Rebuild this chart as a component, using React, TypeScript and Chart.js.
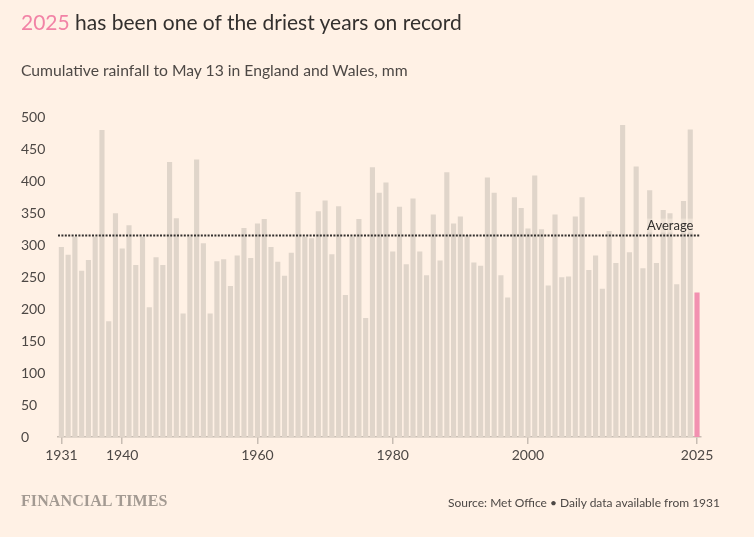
import React, { useEffect, useRef } from "react";
import { Chart, registerables } from "chart.js";

Chart.register(...registerables);

const YEARS: number[] = [];
for (let y = 1931; y <= 2025; y++) YEARS.push(y);

const RAINFALL: number[] = [
  297, 285, 313, 260, 277, 313, 480, 181, 350, 295, // 1931-1940
  331, 269, 313, 203, 281, 269, 430, 342, 193, 313, // 1941-1950
  434, 303, 193, 275, 278, 236, 284, 327, 280, 334, // 1951-1960
  341, 297, 274, 252, 288, 383, 313, 311, 353, 370, // 1961-1970
  286, 361, 222, 313, 341, 186, 422, 382, 398, 290, // 1971-1980
  360, 270, 373, 290, 253, 348, 276, 414, 334, 345, // 1981-1990
  316, 273, 268, 406, 382, 253, 218, 375, 358, 326, // 1991-2000
  409, 325, 237, 348, 250, 251, 345, 375, 261, 284, // 2001-2010
  232, 322, 272, 488, 289, 423, 264, 386, 272, 355, // 2011-2020
  350, 239, 369, 481, 226,                          // 2021-2025
];

const AVERAGE = 315;
const TICK_YEARS: number[] = [1931, 1940, 1960, 1980, 2000, 2025];
const HIGHLIGHT_YEAR = 2025;

const PAPER = "#FFF1E5";
const BAR = "#E0D5CA";
const PINK = "#F291B1";
const TEXT_DARK = "#33302E";
const TEXT_MID = "#4D4845";
const AXIS = "#C8BDB3";
const FONT = "Lato, 'Noto Sans', sans-serif";

const averagePlugin = {
  id: "averageLine",
  afterDatasetsDraw(chart: any) {
    const { ctx, chartArea, scales } = chart;
    const y = scales.y.getPixelForValue(AVERAGE);
    ctx.save();
    ctx.font = `13px ${FONT}`;
    const label = "Average";
    const tw = ctx.measureText(label).width;
    const tx = chartArea.right - 7;
    const ty = y - 10;
    ctx.fillStyle = "rgba(255,241,229,0.45)";
    ctx.fillRect(tx - tw - 2, ty - 7, tw + 4, 14);
    ctx.fillStyle = TEXT_DARK;
    ctx.textAlign = "right";
    ctx.textBaseline = "middle";
    ctx.fillText(label, tx, ty);
    ctx.beginPath();
    ctx.setLineDash([2, 1.4]);
    ctx.lineWidth = 2;
    ctx.strokeStyle = TEXT_DARK;
    ctx.moveTo(chartArea.left, y);
    ctx.lineTo(chartArea.right, y);
    ctx.stroke();
    ctx.restore();
  },
};

function RainChart() {
  const ref = useRef<HTMLCanvasElement | null>(null);
  useEffect(() => {
    if (!ref.current) return;
    const chart = new Chart(ref.current, {
      type: "bar",
      data: {
        labels: YEARS.map(String),
        datasets: [
          {
            data: RAINFALL,
            backgroundColor: YEARS.map((y) => (y === HIGHLIGHT_YEAR ? PINK : BAR)),
            borderWidth: 0,
            barPercentage: 0.76,
            categoryPercentage: 1,
          },
        ],
      },
      options: {
        animation: false,
        responsive: false,
        layout: { padding: { left: 21, top: 117.3, right: 53.6, bottom: 60 } },
        plugins: {
          legend: { display: false },
          tooltip: { enabled: false },
          title: { display: false },
        },
        scales: {
          x: {
            type: "category",
            offset: true,
            grid: {
              offset: false,
              drawOnChartArea: false,
              drawTicks: true,
              tickLength: 7,
              lineWidth: 1.5,
              color: (c: any) =>
                TICK_YEARS.includes(YEARS[c.index]) ? AXIS : "rgba(0,0,0,0)",
            },
            border: { display: true, color: AXIS, width: 1.5 },
            ticks: {
              autoSkip: false,
              maxRotation: 0,
              padding: 3,
              color: TEXT_MID,
              font: { family: FONT, size: 14 },
              callback: (_v: any, i: number) =>
                TICK_YEARS.includes(YEARS[i]) ? String(YEARS[i]) : "",
            },
            afterFit: (s: any) => {
              s.height = 40;
            },
          },
          y: {
            min: 0,
            max: 500,
            grid: { display: false },
            border: { display: false },
            ticks: {
              stepSize: 50,
              crossAlign: "far",
              padding: 0,
              color: TEXT_MID,
              font: { family: FONT, size: 14 },
            },
            afterFit: (s: any) => {
              s.width = 37;
            },
          },
        },
      },
      plugins: [averagePlugin],
    });
    return () => chart.destroy();
  }, []);
  return (
    <canvas
      ref={ref}
      width={754}
      height={537}
      style={{ position: "absolute", left: 0, top: 0, width: 754, height: 537 }}
    />
  );
}

export default function App() {
  return (
    <div
      style={{
        position: "absolute",
        left: 0,
        top: 0,
        width: 754,
        height: 537,
        background: PAPER,
        overflow: "hidden",
        fontFamily: FONT,
      }}
    >
      <RainChart />
      <div
        style={{
          position: "absolute",
          left: 21,
          top: 9,
          fontSize: 21,
          lineHeight: "26px",
          color: TEXT_DARK,
          whiteSpace: "nowrap",
        }}
      >
        <span style={{ color: "#F283A6" }}>2025</span> has been one of the driest years on record
      </div>
      <div
        style={{
          position: "absolute",
          left: 21,
          top: 59,
          fontSize: 15.7,
          lineHeight: "22px",
          color: TEXT_MID,
          whiteSpace: "nowrap",
        }}
      >
        Cumulative rainfall to May 13 in England and Wales, mm
      </div>
      <div
        style={{
          position: "absolute",
          left: 21,
          top: 490,
          fontSize: 16,
          lineHeight: "22px",
          fontFamily: "'Liberation Serif', 'DejaVu Serif', serif",
          fontWeight: 700,
          color: "#A39A92",
          whiteSpace: "nowrap",
          letterSpacing: 0.1,
        }}
      >
        FINANCIAL TIMES
      </div>
      <div
        style={{
          position: "absolute",
          right: 34,
          top: 494,
          fontSize: 12,
          lineHeight: "17px",
          color: TEXT_MID,
          whiteSpace: "nowrap",
        }}
      >
        Source: Met Office • Daily data available from 1931
      </div>
    </div>
  );
}
